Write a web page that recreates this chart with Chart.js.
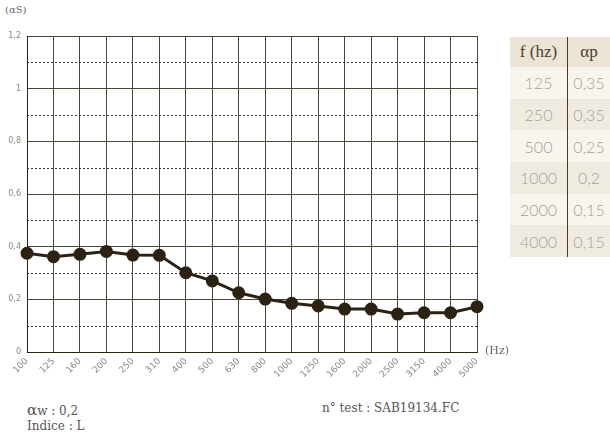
<!DOCTYPE html>
<html lang="fr">

<head>
  <meta charset="UTF-8" />
  <title>Absorption</title>
  <script src="https://cdn.jsdelivr.net/npm/chart.js"></script>
  <style>
    html,
    body {
      margin: 0;
      padding: 0;
      width: 610px;
      height: 437px;
      background: #fff;
      overflow: hidden;
      font-family: 'DejaVu Serif', serif;
      position: relative;
    }

    #chart-box {
      position: absolute;
      left: 0;
      top: 0;
      width: 500px;
      height: 392px;
    }

    .txt {
      position: absolute;
      color: #555;
      font-size: 12px;
      white-space: nowrap;
    }

    #unitY {
      left: 5px;
      top: 4px;
      font-size: 10px;
      color: #666;
    }

    #unitX {
      left: 485px;
      top: 344px;
      font-size: 11px;
      color: #666;
    }

    #table {
      position: absolute;
      left: 510px;
      top: 37px;
      width: 100px;
      border-collapse: collapse;
      font-family: 'Lato', 'Noto Sans', sans-serif;
    }

    #table th,
    #table td {
      padding: 0;
      text-align: center;
      font-weight: 300;
    }

    #table th {
      height: 30px;
      background: #ece4d4;
      color: #4a4032;
      font-family: 'Liberation Serif', serif;
      font-size: 17px;
      font-weight: normal;
    }

    #table td {
      height: 31.7px;
      color: #a6a29a;
      font-size: 16px;
    }

    #table tr:nth-child(even) td {
      background: #f8f5ef;
    }

    #table tr:nth-child(odd) td {
      background: #f0ebe1;
    }

    #table .c1 {
      width: 57px;
      border-right: 1px solid #4a3a20;
    }
  </style>
</head>

<body>
  <div class="txt" id="unitY">(αS)</div>
  <div id="chart-box"><canvas id="absChart"></canvas></div>
  <div class="txt" id="unitX">(Hz)</div>

  <table id="table"></table>

  <div class="txt" style="left:27px;top:401px;"><span style="font-size:15px;">α</span>w : 0,2</div>
  <div class="txt" style="left:27px;top:419px;">Indice : L</div>
  <div class="txt" style="left:322px;top:401px;">n° test : SAB19134.FC</div>

  <script>
    // frequencies (Hz) and measured alpha S
    const freqs = ['100', '125', '160', '200', '250', '310', '400', '500', '630', '800',
      '1000', '1250', '1600', '2000', '2500', '3150', '4000', '5000'];
    const alphaS = [0.375, 0.362, 0.371, 0.382, 0.368, 0.367, 0.301, 0.27, 0.225, 0.201,
      0.185, 0.175, 0.163, 0.163, 0.144, 0.149, 0.149, 0.172];

    // practical absorption table
    const tableFreqs = ['125', '250', '500', '1000', '2000', '4000'];
    const alphaP = ['0,35', '0,35', '0,25', '0,2', '0,15', '0,15'];

    const yTicks = [0, 0.2, 0.4, 0.6, 0.8, 1, 1.2];
    const yMinor = [0.1, 0.3, 0.5, 0.7, 0.9, 1.1];

    // build the table
    let rows = '<tr><th class="c1">f (hz)</th><th>αp</th></tr>';
    for (let i = 0; i < tableFreqs.length; i++) {
      rows += `<tr><td class="c1">${tableFreqs[i]}</td><td>${alphaP[i]}</td></tr>`;
    }
    document.getElementById('table').innerHTML = rows;

    const gridColor = '#4d4536';

    // dotted lines between the main y grid lines
    const minorLines = {
      id: 'minorLines',
      beforeDatasetsDraw(chart) {
        const { ctx, chartArea, scales } = chart;
        ctx.save();
        ctx.strokeStyle = '#3a3124';
        ctx.lineWidth = 1;
        ctx.setLineDash([2, 2]);
        yMinor.forEach(v => {
          const y = Math.round(scales.y.getPixelForValue(v)) + 0.5;
          ctx.beginPath();
          ctx.moveTo(chartArea.left, y);
          ctx.lineTo(chartArea.right, y);
          ctx.stroke();
        });
        ctx.restore();
      }
    };

    const ctx = document.getElementById('absChart').getContext('2d');
    const absChart = new Chart(ctx, {
      type: 'line',
      data: {
        labels: freqs,
        datasets: [{
          data: alphaS,
          borderColor: '#2b2212',
          backgroundColor: '#2b2212',
          borderWidth: 3,
          pointRadius: 5,
          pointHoverRadius: 5,
          tension: 0
        }]
      },
      options: {
        responsive: true,
        maintainAspectRatio: false,
        animation: false,
        layout: {
          padding: { top: 36, right: 23, left: 0, bottom: 0 }
        },
        scales: {
          x: {
            offset: false,
            afterFit: s => { s.height = 40; },
            ticks: {
              color: '#8e8a84',
              font: { family: 'DejaVu Sans', size: 9 },
              minRotation: 45,
              maxRotation: 45,
              autoSkip: false,
              padding: 4
            },
            grid: {
              color: gridColor,
              lineWidth: 1,
              drawTicks: false
            },
            border: { color: '#2b2212', width: 1 }
          },
          y: {
            min: 0,
            max: 1.2,
            afterFit: s => { s.width = 27; },
            afterBuildTicks: s => { s.ticks = yTicks.map(v => ({ value: v })); },
            ticks: {
              color: '#8e8a84',
              font: { family: 'DejaVu Sans', size: 8 },
              padding: 6,
              callback: v => String(Math.round(v * 10) / 10).replace('.', ',')
            },
            grid: {
              color: gridColor,
              lineWidth: 1,
              drawTicks: false
            },
            border: { color: '#2b2212', width: 1 }
          }
        },
        plugins: {
          legend: { display: false },
          tooltip: { enabled: false }
        }
      },
      plugins: [minorLines]
    });
  </script>
</body>

</html>
